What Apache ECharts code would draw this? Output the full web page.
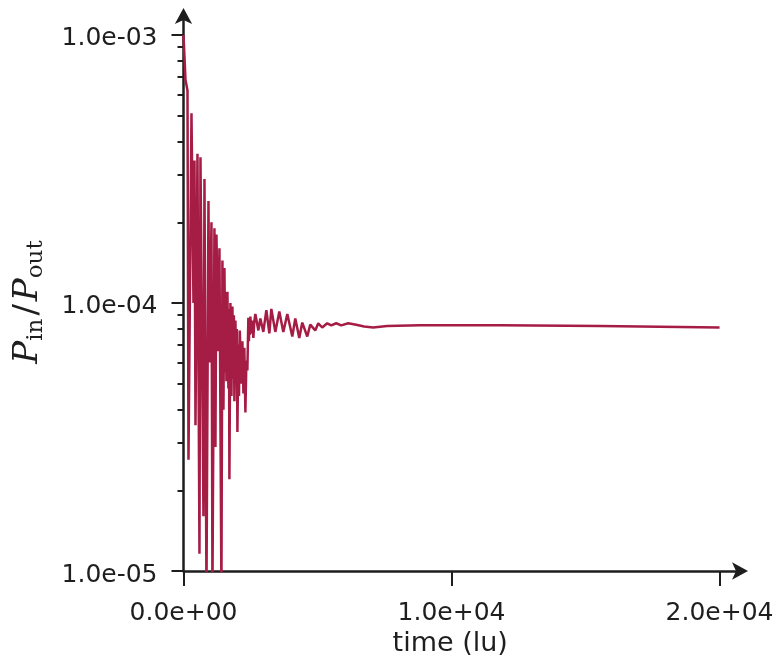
<!DOCTYPE html>
<html><head><meta charset="utf-8">
<script src="https://cdn.jsdelivr.net/npm/echarts@6/dist/echarts.min.js"></script>
<style>html,body{margin:0;padding:0;background:#fff}#c{width:783px;height:666px}</style>
</head><body><div id="c"></div>
<script>
const timeLu = [0,74,149,186,298,372,410,447,521,596,633,745,782,857,931,968,1005,1043,1080,1154,1192,1229,1303,1341,1415,1452,1490,1527,1564,1580,1601,1639,1675,1695,1713,1750,1788,1825,1860,1880,1899,1937,1975,1990,2011,2048,2070,2100,2160,2197,2235,2270,2309,2346,2383,2420,2440,2458,2475,2495,2530,2560,2607,2640,2681,2793,2868,2979,3091,3203,3277,3426,3575,3724,3873,4059,4171,4320,4431,4618,4729,4916,5027,5176,5363,5512,5698,5884,6145,6443,6741,7076,7597,8826,11805,15529,20000];
const ratio = [1.0e-3,6.8e-4,6.2e-4,2.6e-5,5.1e-4,1.0e-4,3.4e-4,3.5e-5,3.6e-4,1.16e-5,3.5e-4,1.6e-5,2.9e-4,8.4e-6,2.4e-4,6.0e-5,1.0e-4,2.0e-4,8.4e-6,1.9e-4,2.9e-5,1.8e-4,6.6e-5,1.6e-4,8.4e-6,1.44e-4,4.0e-5,1.35e-4,5.5e-5,1.1e-4,5.1e-5,1.1e-4,4.8e-5,9.5e-5,2.2e-5,1.0e-4,4.5e-5,9.7e-5,5.2e-5,9.0e-5,4.3e-5,8.6e-5,5.0e-5,8.0e-5,3.3e-5,7.0e-5,4.5e-5,7.9e-5,5.0e-5,7.2e-5,4.6e-5,6.8e-5,3.9e-5,6.1e-5,5.6e-5,8.8e-5,7.2e-5,8.4e-5,7.6e-5,8.9e-5,7.7e-5,8.6e-5,7.4e-5,8.5e-5,9.1e-5,7.9e-5,8.75e-5,7.8e-5,9.4e-5,7.7e-5,9.5e-5,7.8e-5,9.3e-5,7.8e-5,9.1e-5,7.5e-5,8.75e-5,7.4e-5,8.45e-5,7.5e-5,8.3e-5,7.9e-5,8.4e-5,8.1e-5,8.4e-5,8.25e-5,8.4e-5,8.25e-5,8.4e-5,8.3e-5,8.17e-5,8.1e-5,8.2e-5,8.25e-5,8.25e-5,8.2e-5,8.1e-5];
const xTickValues = [0, 10000, 20000];
const xTickLabels = ['0.0e+00', '1.0e+04', '2.0e+04'];
const yTickValues = [1e-5, 1e-4, 1e-3];
const yTickLabels = ['1.0e-05', '1.0e-04', '1.0e-03'];
const yMinorTicks = [2e-5,3e-5,4e-5,5e-5,6e-5,7e-5,8e-5,9e-5,2e-4,3e-4,4e-4,5e-4,6e-4,7e-4,8e-4,9e-4];

const INK = '#1e1e1e';
const FONT = 'DejaVu Sans';
function nearestLabel(vals, labels, v, isLog) {
  let best = 0, bd = Infinity;
  vals.forEach((t, i) => {
    const d = isLog ? Math.abs(Math.log10(t) - Math.log10(v)) : Math.abs(t - v);
    if (d < bd) { bd = d; best = i; }
  });
  return labels[best];
}

const chart = echarts.init(document.getElementById('c'), null, {renderer: 'canvas'});
chart.setOption({
  animation: false,
  backgroundColor: '#ffffff',
  grid: {left: 183.5, right: 42, top: 15, bottom: 95, containLabel: false},
  xAxis: {
    type: 'value', min: 0, max: 20800,
    name: 'time (lu)', nameLocation: 'middle', nameGap: 56,
    nameTextStyle: {fontFamily: FONT, fontSize: 27, color: INK, padding: [0, 24, 0, 0]},
    axisLine: {show: true, symbol: ['none', 'arrow'], symbolSize: [13, 16], symbolOffset: [0, 7], lineStyle: {color: INK, width: 2.5}},
    axisTick: {show: true, length: 15, customValues: xTickValues, lineStyle: {color: INK, width: 2}},
    axisLabel: {show: true, customValues: xTickValues, margin: 30, fontFamily: FONT, fontSize: 25, color: INK,
      formatter: v => nearestLabel(xTickValues, xTickLabels, v, false)},
    splitLine: {show: false}, minorTick: {show: false}
  },
  yAxis: [{
    type: 'log', logBase: 10, min: 1e-5, max: 1.187e-3,
    name: '{p|P}{s|in}{q|/}{p|P}{s|out}', nameLocation: 'middle', nameGap: 136, nameRotate: 90,
    nameTextStyle: {color: INK, padding: [0, 18, 0, 0], rich: {
      p: {fontFamily: 'DejaVu Serif', fontStyle: 'italic', fontSize: 34, lineHeight: 38, color: INK},
      q: {fontFamily: 'DejaVu Serif', fontSize: 34, lineHeight: 38, color: INK, padding: [0, 3, 0, 3]},
      s: {fontFamily: 'DejaVu Serif', fontSize: 23, lineHeight: 18, verticalAlign: 'bottom', color: INK}
    }},
    axisLine: {show: true, symbol: ['none', 'arrow'], symbolSize: [13, 16], symbolOffset: [0, 7], lineStyle: {color: INK, width: 2.5}},
    axisTick: {show: true, length: 12, customValues: yTickValues, lineStyle: {color: INK, width: 2}},
    axisLabel: {show: true, customValues: yTickValues, margin: 26, color: INK,
      formatter: v => '{t|' + nearestLabel(yTickValues, yTickLabels, v, true) + '}',
      rich: {t: {fontFamily: FONT, fontSize: 25, color: INK, lineHeight: 30, padding: [8, 0, 0, 0]}}},
    splitLine: {show: false}, minorTick: {show: false}
  }, {
    type: 'log', logBase: 10, min: 1e-5, max: 1.187e-3, position: 'left',
    axisLine: {show: false},
    axisTick: {show: true, length: 6, customValues: yMinorTicks, lineStyle: {color: INK, width: 2}},
    axisLabel: {show: false},
    splitLine: {show: false}, minorTick: {show: false}
  }],
  series: [{
    type: 'line', yAxisIndex: 0, showSymbol: false, clip: true,
    lineStyle: {color: '#a51c45', width: 2.5},
    data: timeLu.map((t, i) => [t, ratio[i]])
  }]
});
</script>
</body></html>
